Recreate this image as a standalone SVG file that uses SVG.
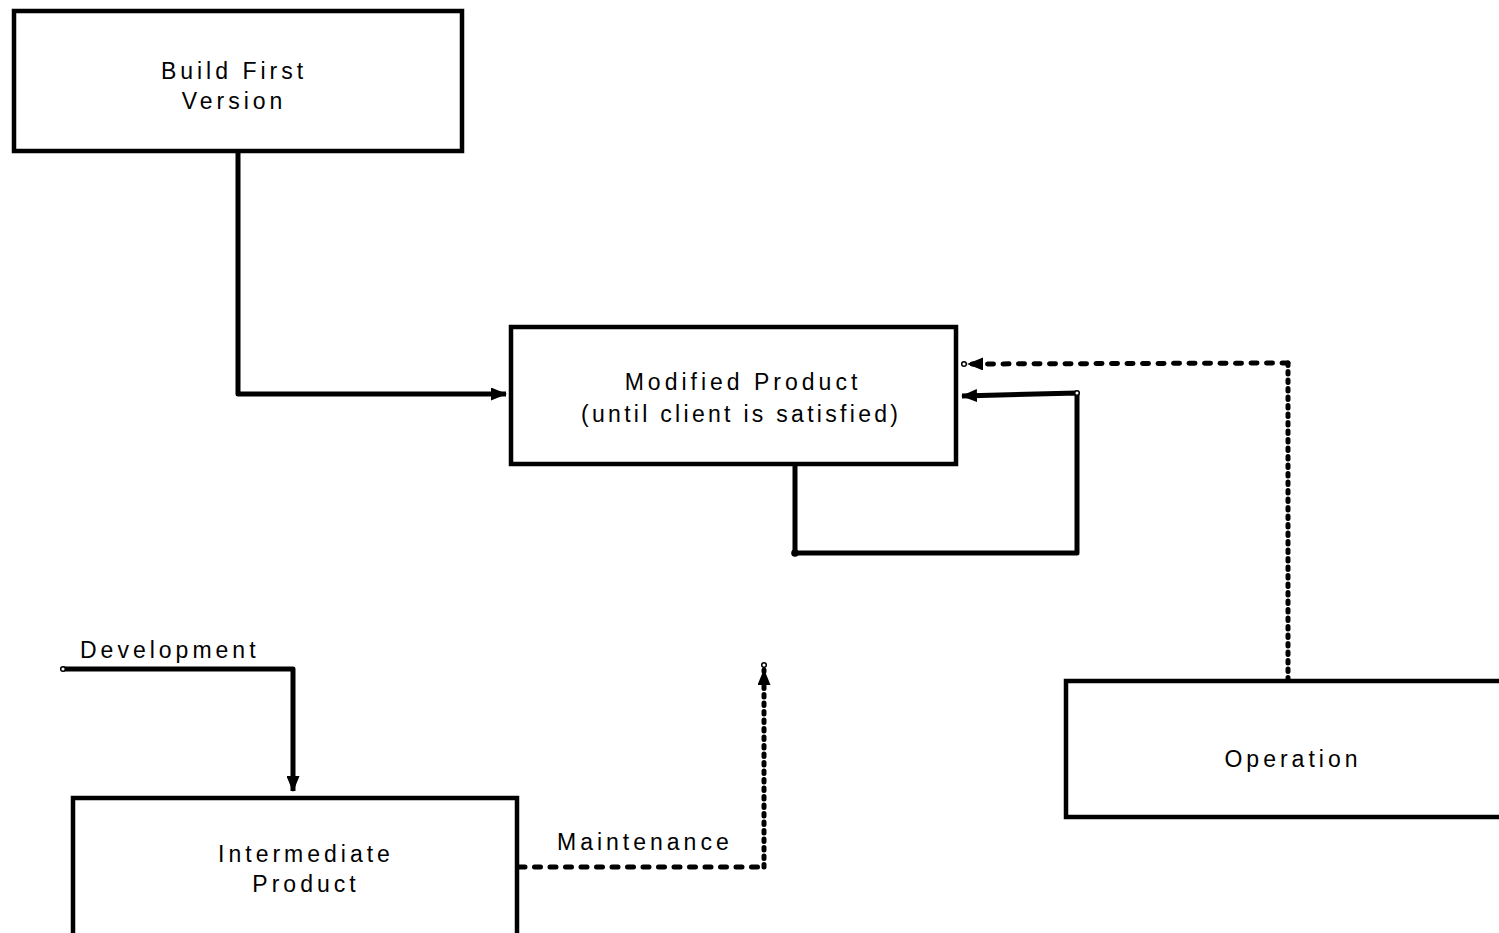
<svg xmlns="http://www.w3.org/2000/svg" width="1499" height="933" viewBox="0 0 1499 933">
  <style>
    .box { fill: #fff; stroke: #000; stroke-width: 4.5; }
    .lbl { font-family: "Liberation Sans", Arial, sans-serif; font-size: 23px; letter-spacing: 4px; fill: #000; }
    .mid { text-anchor: middle; }
    .wire { fill: none; stroke: #000; stroke-width: 5; stroke-linejoin: round; }
    .dashH { stroke-dasharray: 6 9.5; stroke-linecap: round; }
    .dashV { stroke-dasharray: 2.5 6; stroke-linecap: round; }
    .tail { fill: #fff; stroke: #000; stroke-width: 1.5; }
  </style>
  <defs>
    <marker id="arrow" viewBox="0 0 16 13" refX="15" refY="6.5" markerWidth="16" markerHeight="13" markerUnits="userSpaceOnUse" orient="auto">
      <path d="M0,0 L16,6.5 L0,13 Z" fill="#000"/>
    </marker>
  </defs>

  <rect width="1499" height="933" fill="#fff"/>

  <!-- connectors -->
  <g id="connectors">
    <!-- Build First Version -> Modified Product -->
    <path class="wire" d="M238,151 L238,394 L506,394" marker-end="url(#arrow)"/>
    <!-- loop back into Modified Product -->
    <path class="wire" d="M795,464 L795,553 L1077,553 L1077,393 L962,396" marker-end="url(#arrow)"/>
    <circle cx="795" cy="553" r="3.8" fill="#000"/>
    <circle class="tail" cx="1077" cy="393" r="2.3"/>
    <!-- Operation -> Modified Product -->
    <path class="wire dashV" d="M1288,680 L1288,363"/>
    <path class="wire dashH" d="M1288,363 L968,364" marker-end="url(#arrow)"/>
    <circle class="tail" cx="964" cy="364" r="2.3"/>
    <!-- Development -> Intermediate Product -->
    <path class="wire" d="M63,669 L293,669 L293,791" marker-end="url(#arrow)"/>
    <circle class="tail" cx="63" cy="669" r="2.3"/>
    <!-- Maintenance -->
    <path class="wire dashH" d="M519,867 L764,867"/>
    <path class="wire dashV" d="M764,867 L764,670" marker-end="url(#arrow)"/>
    <circle class="tail" cx="764" cy="665" r="2.3"/>
    <text class="lbl" x="80" y="658">Development</text>
    <text class="lbl" x="557" y="850">Maintenance</text>
  </g>

  <g id="build-first-version">
    <rect class="box" x="14" y="11" width="448" height="140"/>
    <text class="lbl mid" x="234" y="79">Build First</text>
    <text class="lbl mid" x="234" y="109">Version</text>
  </g>

  <g id="modified-product">
    <rect class="box" x="511" y="327" width="445" height="137"/>
    <text class="lbl mid" x="743" y="390">Modified Product</text>
    <text class="lbl" x="581" y="422" textLength="321" lengthAdjust="spacing">(until client is satisfied)</text>
  </g>

  <g id="intermediate-product">
    <rect class="box" x="73" y="798" width="444" height="150"/>
    <text class="lbl mid" x="306" y="862">Intermediate</text>
    <text class="lbl mid" x="306" y="892">Product</text>
  </g>

  <g id="operation">
    <rect class="box" x="1066" y="681" width="450" height="136"/>
    <text class="lbl mid" x="1293" y="767">Operation</text>
  </g>
</svg>
